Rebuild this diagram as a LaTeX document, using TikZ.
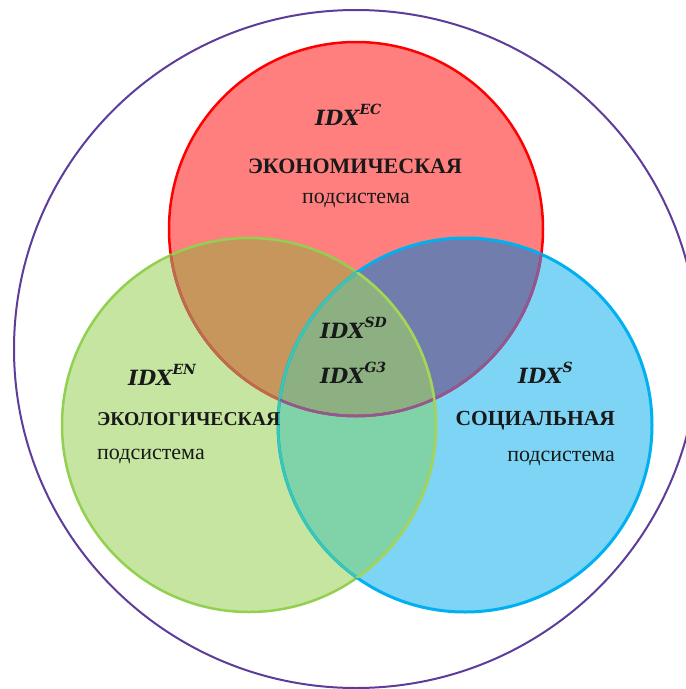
\documentclass[tikz,border=0pt]{standalone}
\usepackage{fontspec}
\setmainfont{Liberation Serif}
\newfontfamily\idxfont{DejaVu Serif}
\definecolor{ronly}{RGB}{255,127,127}
\definecolor{gonly}{RGB}{198,229,160}
\definecolor{bonly}{RGB}{125,212,245}
\definecolor{rg}{RGB}{198,150,92}
\definecolor{rb}{RGB}{113,125,172}
\definecolor{gb}{RGB}{128,210,168}
\definecolor{rgb}{RGB}{140,176,130}
\definecolor{rline}{RGB}{255,0,0}
\definecolor{gline}{RGB}{146,208,80}
\definecolor{bline}{RGB}{0,176,240}
\definecolor{oline}{RGB}{94,60,153}
\definecolor{txt}{RGB}{25,25,25}
\newcommand\idxsup[1]{\raisebox{0.5em}{\fontsize{14}{14}\selectfont #1}}
\begin{document}
\begin{tikzpicture}[x=1pt,y=-1pt,
  idx/.style={inner sep=0pt,text=txt,font=\idxfont\bfseries\itshape\fontsize{21}{21}\selectfont},
  head/.style={inner sep=0pt,text=txt,font=\bfseries\fontsize{20}{20}\selectfont},
  sub/.style={inner sep=0pt,text=txt,font=\fontsize{22}{22}\selectfont}]
\useasboundingbox (0,0) rectangle (686,689);
\fill[white] (0,0) rectangle (686,689);
\coordinate (cr) at (356,229);
\coordinate (cg) at (249,425);
\coordinate (cb) at (465,425);
\coordinate (co) at (356,349);
% outer circle
\draw[oline,line width=2pt] (co) ellipse[x radius=342pt,y radius=339pt];
% single fills
\fill[ronly] (cr) circle[radius=187pt];
\fill[gonly] (cg) circle[radius=187pt];
\fill[bonly] (cb) circle[radius=187pt];
% pairwise
\begin{scope}\clip (cr) circle[radius=187pt];\fill[rg] (cg) circle[radius=187pt];\fill[rb] (cb) circle[radius=187pt];\end{scope}
\begin{scope}\clip (cg) circle[radius=187pt];\fill[gb] (cb) circle[radius=187pt];\end{scope}
\begin{scope}\clip (cr) circle[radius=187pt];\clip (cg) circle[radius=187pt];\fill[rgb] (cb) circle[radius=187pt];\end{scope}
% outlines
\draw[rline,line width=2.5pt] (cr) circle[radius=187pt];
\draw[gline,line width=2.5pt] (cg) circle[radius=187pt];
\draw[bline,line width=3pt] (cb) circle[radius=187pt];
\begin{scope}\clip (cg) circle[radius=187pt];\draw[color={rgb,255:red,186;green,110;blue,80},line width=2.5pt] (cr) circle[radius=187pt];
\draw[color={rgb,255:red,60;green,200;blue,175},line width=2.5pt] (cb) circle[radius=187pt];\end{scope}
\begin{scope}\clip (cb) circle[radius=187pt];\draw[color={rgb,255:red,140;green,90;blue,150},line width=2.5pt] (cr) circle[radius=187pt];
\draw[color={rgb,255:red,165;green,212;blue,90},line width=2.5pt] (cg) circle[radius=187pt];\end{scope}
% texts
\node[idx,anchor=base west] (tec) at (315,125) {IDX\idxsup{EC}};
\node[head,anchor=base,font=\bfseries\fontsize{22}{22}\selectfont] (hec) at (355,173) {ЭКОНОМИЧЕСКАЯ};
\node[sub,anchor=base] (sec) at (356,203) {подсистема};
\node[idx,anchor=base west] (tsd) at (320,338) {IDX\idxsup{SD}};
\node[idx,anchor=base west] (tg3) at (320,383) {IDX\idxsup{G3}};
\node[idx,anchor=base west] (ten) at (128,385) {IDX\idxsup{EN}};
\node[head,anchor=base west,font=\bfseries\fontsize{19.6}{20}\selectfont] (hen) at (97,425) {ЭКОЛОГИЧЕСКАЯ};
\node[sub,anchor=base west] (sen) at (97,459) {подсистема};
\node[idx,anchor=base west] (ts) at (518,383) {IDX\idxsup{S}};
\node[head,anchor=base east,font=\bfseries\fontsize{21.5}{22}\selectfont] (hs) at (615,425) {СОЦИАЛЬНАЯ};
\node[sub,anchor=base east] (ss) at (615,461) {подсистема};
\end{tikzpicture}
\end{document}
